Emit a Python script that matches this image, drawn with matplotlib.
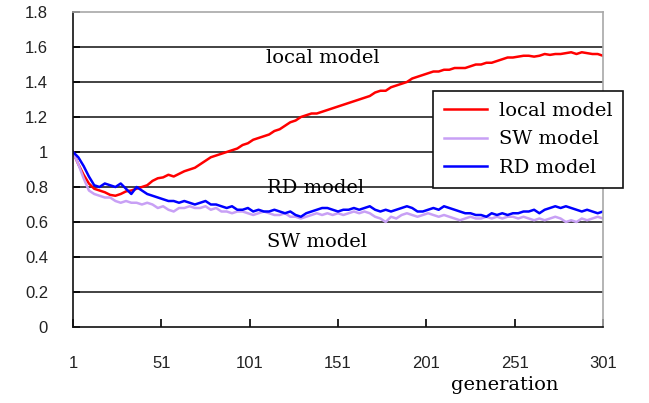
import matplotlib.pyplot as plt
import numpy as np

# generations sampled every 3 steps (1, 4, ..., 301)
gens = np.arange(1, 302, 3)

local_model = [
    1.00, 0.93, 0.87, 0.82, 0.79, 0.78, 0.77, 0.755, 0.75, 0.76,
    0.775, 0.78, 0.79, 0.80, 0.81, 0.835, 0.85, 0.855, 0.87, 0.86,
    0.875, 0.89, 0.90, 0.91, 0.93, 0.95, 0.97, 0.98, 0.99, 1.00,
    1.01, 1.02, 1.04, 1.05, 1.07, 1.08, 1.09, 1.10, 1.12, 1.13,
    1.15, 1.17, 1.18, 1.20, 1.21, 1.22, 1.22, 1.23, 1.24, 1.25,
    1.26, 1.27, 1.28, 1.29, 1.30, 1.31, 1.32, 1.34, 1.35, 1.35,
    1.37, 1.38, 1.39, 1.40, 1.42, 1.43, 1.44, 1.45, 1.46, 1.46,
    1.47, 1.47, 1.48, 1.48, 1.48, 1.49, 1.50, 1.50, 1.51, 1.51,
    1.52, 1.53, 1.54, 1.54, 1.545, 1.55, 1.55, 1.545, 1.55, 1.56,
    1.555, 1.56, 1.56, 1.565, 1.57, 1.56, 1.57, 1.565, 1.56, 1.56,
    1.55,
]

sw_model = [
    1.00, 0.93, 0.85, 0.78, 0.76, 0.75, 0.74, 0.74, 0.72, 0.71,
    0.72, 0.71, 0.71, 0.70, 0.71, 0.70, 0.68, 0.69, 0.67, 0.66,
    0.68, 0.68, 0.69, 0.68, 0.68, 0.69, 0.67, 0.68, 0.66, 0.66,
    0.65, 0.66, 0.66, 0.65, 0.64, 0.65, 0.66, 0.65, 0.64, 0.64,
    0.65, 0.63, 0.63, 0.62, 0.63, 0.64, 0.65, 0.64, 0.65, 0.64,
    0.65, 0.64, 0.65, 0.66, 0.65, 0.66, 0.65, 0.63, 0.62, 0.60,
    0.63, 0.62, 0.64, 0.65, 0.64, 0.63, 0.64, 0.65, 0.64, 0.63,
    0.64, 0.63, 0.62, 0.61, 0.62, 0.63, 0.62, 0.62, 0.63, 0.62,
    0.63, 0.62, 0.63, 0.63, 0.62, 0.63, 0.62, 0.61, 0.62, 0.61,
    0.62, 0.63, 0.62, 0.60, 0.61, 0.60, 0.62, 0.61, 0.62, 0.63,
    0.62,
]

rd_model = [
    1.00, 0.97, 0.92, 0.86, 0.81, 0.80, 0.82, 0.81, 0.80, 0.82,
    0.79, 0.76, 0.80, 0.78, 0.76, 0.75, 0.74, 0.73, 0.72, 0.72,
    0.71, 0.72, 0.71, 0.70, 0.71, 0.72, 0.70, 0.70, 0.69, 0.68,
    0.69, 0.67, 0.67, 0.68, 0.66, 0.67, 0.66, 0.66, 0.67, 0.66,
    0.65, 0.66, 0.64, 0.63, 0.65, 0.66, 0.67, 0.68, 0.68, 0.67,
    0.66, 0.67, 0.67, 0.68, 0.67, 0.68, 0.69, 0.67, 0.66, 0.67,
    0.66, 0.67, 0.68, 0.69, 0.68, 0.66, 0.66, 0.67, 0.68, 0.67,
    0.69, 0.68, 0.67, 0.66, 0.65, 0.65, 0.64, 0.64, 0.63, 0.65,
    0.64, 0.65, 0.64, 0.65, 0.65, 0.66, 0.66, 0.67, 0.65, 0.67,
    0.68, 0.69, 0.68, 0.69, 0.68, 0.67, 0.66, 0.67, 0.66, 0.65,
    0.66,
]

x_ticks = [1, 51, 101, 151, 201, 251, 301]
y_ticks = [0, 0.2, 0.4, 0.6, 0.8, 1, 1.2, 1.4, 1.6, 1.8]
y_labels = ["0", "0.2", "0.4", "0.6", "0.8", "1", "1.2", "1.4", "1.6", "1.8"]

serif = "DejaVu Serif"

fig = plt.figure(figsize=(6.49, 4.03), dpi=100)
ax = fig.add_axes([0.1125, 0.1886, 0.8166, 0.7816])

ax.plot(gens, local_model, color="#FF0000", lw=1.8, label="local model")
ax.plot(gens, sw_model, color="#C8A0F5", lw=1.8, label="SW model")
ax.plot(gens, rd_model, color="#0000FF", lw=1.8, label="RD model")

ax.set_xlim(1, 301)
ax.set_ylim(0, 1.8)
ax.set_xticks(x_ticks)
ax.set_yticks(y_ticks)
ax.set_yticklabels(y_labels)

for y in y_ticks[1:-1]:
    ax.axhline(y, color="#222222", lw=1.2, zorder=0)

for s in ["left", "bottom"]:
    ax.spines[s].set_color("#111111")
    ax.spines[s].set_linewidth(1.2)
for s in ["top", "right"]:
    ax.spines[s].set_color("#A8A8A8")
    ax.spines[s].set_linewidth(1.2)

ax.tick_params(axis="y", direction="in", length=5, width=1.2, pad=18,
               labelsize=12, labelcolor="#222222")
ax.tick_params(axis="x", direction="in", length=6, width=1.2, pad=21,
               labelsize=12, labelcolor="#222222")
for lbl in ax.get_xticklabels() + ax.get_yticklabels():
    lbl.set_fontfamily("Liberation Sans")

ax.text(110, 1.537, "local model", family=serif, fontsize=14, va="center")
ax.text(111, 0.794, "RD model", family=serif, fontsize=14, va="center")
ax.text(111, 0.486, "SW model", family=serif, fontsize=14, va="center")
fig.text(505 / 649, 1 - 385 / 403, "generation", family=serif, fontsize=14,
         ha="center", va="center")

leg = ax.legend(loc="upper left", bbox_to_anchor=(0.679, 0.749),
                borderaxespad=0, frameon=True, fancybox=False,
                prop={"family": serif, "size": 14}, handlelength=2.25,
                handletextpad=0.6, borderpad=0.55, labelspacing=0.55)
leg.get_frame().set_edgecolor("#111111")
leg.get_frame().set_linewidth(1.2)
leg.get_frame().set_alpha(1)
leg.set_clip_on(False)

fig.savefig("out.png", dpi=100)
